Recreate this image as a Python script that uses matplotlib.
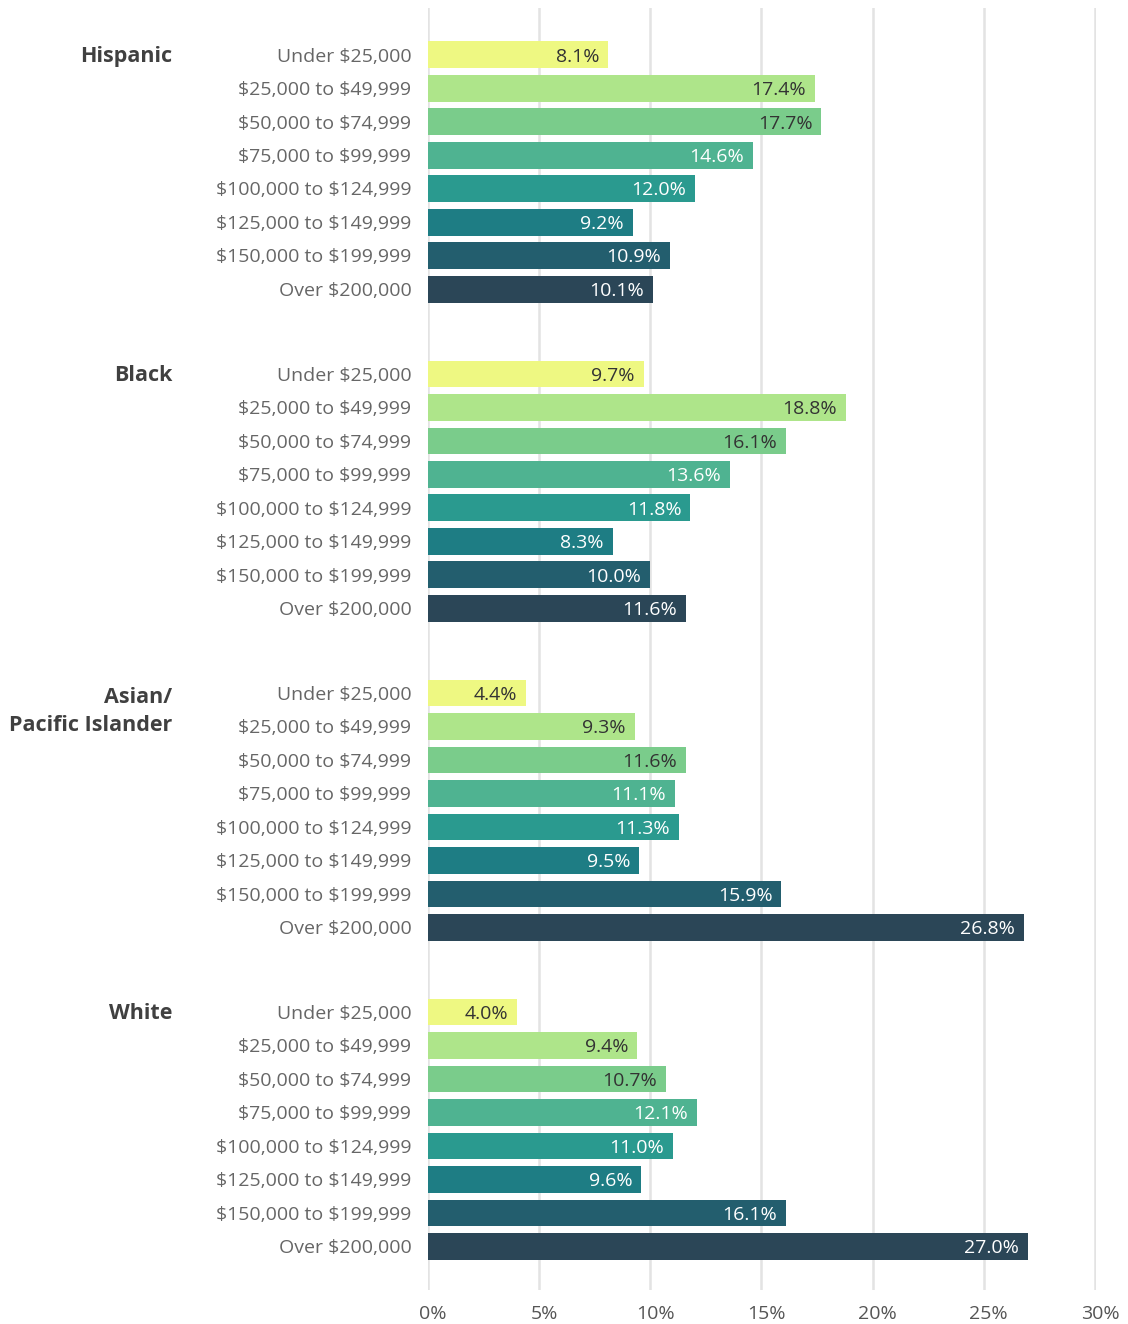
import matplotlib.pyplot as plt
import matplotlib.transforms as mtransforms
import numpy as np

groups = ['Hispanic', 'Black', 'Asian/\nPacific Islander', 'White']
brackets = ['Under \\$25,000', '\\$25,000 to \\$49,999', '\\$50,000 to \\$74,999', '\\$75,000 to \\$99,999',
            '\\$100,000 to \\$124,999', '\\$125,000 to \\$149,999', '\\$150,000 to \\$199,999', 'Over \\$200,000']
hispanic = [8.1, 17.4, 17.7, 14.6, 12.0, 9.2, 10.9, 10.1]
black = [9.7, 18.8, 16.1, 13.6, 11.8, 8.3, 10.0, 11.6]
asian = [4.4, 9.3, 11.6, 11.1, 11.3, 9.5, 15.9, 26.8]
white = [4.0, 9.4, 10.7, 12.1, 11.0, 9.6, 16.1, 27.0]
colors = ['#eef882', '#aee58a', '#7acc8b', '#4fb391', '#2a9a8f', '#1e7d84', '#235e6e', '#2b4657']

plt.rcParams['font.family'] = ['Open Sans', 'DejaVu Sans']

fig = plt.figure(figsize=(11.28, 13.24), dpi=100)
ax = fig.add_axes([428 / 1128, 1 - 1290 / 1324, (1096 - 428) / 1128, (1290 - 8) / 1324])

stride = 9.53
for g, vals in enumerate([hispanic, black, asian, white]):
    y = g * stride + np.arange(len(vals))
    ax.barh(y, vals, height=0.8, color=colors, zorder=2)
    for i, (yy, v) in enumerate(zip(y, vals)):
        ax.text(v - 0.4, yy + 0.05, f'{v:.1f}%', ha='right', va='center', fontsize=14,
                color='#333333' if i < 3 else 'white', zorder=3)
        ax.text(-0.75, yy + 0.05, brackets[i], ha='right', va='center', fontsize=14,
                color='#666666')
    ax.text(-11.5, y[0] + (0.55 if g == 2 else 0.05), groups[g], ha='right', va='center',
            fontsize=15.5, fontweight='bold', color='#404040', linespacing=1.45)

ax.set_xlim(0, 30.05)
ax.set_ylim(3 * stride + 7 + 1.3, -1.4)
ax.set_xticks(np.arange(0, 31, 5))
ax.set_xticklabels([f'{t}%' for t in range(0, 31, 5)])
ax.set_yticks([])
ax.grid(axis='x', color='#e3e3e3', linewidth=1.8, zorder=0)
for s in ax.spines.values():
    s.set_visible(False)
ax.tick_params(axis='x', length=0, labelsize=14, labelcolor='#555555', pad=11)
shift = mtransforms.ScaledTranslation(5 / 100, 0, fig.dpi_scale_trans)
for lab in ax.get_xticklabels():
    lab.set_transform(lab.get_transform() + shift)

fig.savefig('out.png', dpi=100)
